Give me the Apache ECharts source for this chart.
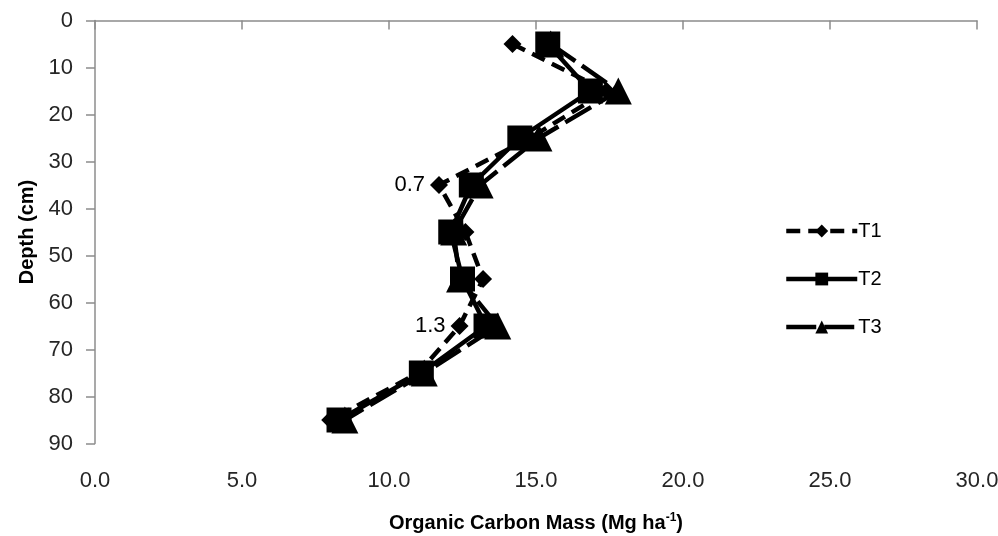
<!DOCTYPE html>
<html>
<head>
<meta charset="utf-8">
<script src="https://cdn.jsdelivr.net/npm/echarts@6/dist/echarts.min.js"></script>
<style>
html,body{margin:0;padding:0;background:#fff;}
#chart{width:998px;height:536px;}
</style>
</head>
<body>
<div id="chart"></div>
<script>
var depths = [5, 15, 25, 35, 45, 55, 65, 75, 85];
var seriesNames = ['T1', 'T2', 'T3'];
var t1 = [14.2, 17.4, 14.8, 11.7, 12.6, 13.2, 12.4, 11.0, 8.0];
var t2 = [15.4, 16.85, 14.45, 12.8, 12.1, 12.5, 13.3, 11.1, 8.3];
var t3 = [15.5, 17.8, 15.1, 13.1, 12.2, 12.4, 13.7, 11.2, 8.5];
var xTicks = [0, 5, 10, 15, 20, 25, 30];
var yTicks = [0, 10, 20, 30, 40, 50, 60, 70, 80, 90];
var pointLabels = {T1: {35: '0.7', 65: '1.3'}};

var FONT = '"Liberation Sans", Arial, sans-serif';

function build(name, vals) {
  return vals.map(function (v, i) {
    var item = {value: [v, depths[i]]};
    var lbl = pointLabels[name] && pointLabels[name][depths[i]];
    if (lbl) {
      item.label = {show: true, position: 'left', distance: 5, formatter: lbl,
        fontSize: 22, color: '#000', fontFamily: FONT};
    }
    return item;
  });
}

var styles = {
  T1: {symbol: 'diamond', size: 18, dash: [14, 8]},
  T2: {symbol: 'rect', size: 25, dash: 'solid'},
  T3: {symbol: 'triangle', size: 27, dash: [30, 8]}
};

var chart = echarts.init(document.getElementById('chart'), null, {renderer: 'canvas'});
var series = seriesNames.map(function (n, k) {
  var vals = [t1, t2, t3][k];
  var s = styles[n];
  return {
    name: n, type: 'line', data: build(n, vals),
    symbol: s.symbol, symbolSize: s.size, showAllSymbol: true,
    itemStyle: {color: '#000'},
    lineStyle: {color: '#000', width: 4.5, type: s.dash},
    z: 2 + k, animation: false
  };
});

chart.setOption({
  animation: false,
  grid: {left: 95, right: 21, top: 20.5, bottom: 92.5, containLabel: false, outerBoundsMode: 'none'},
  legend: {
    orient: 'vertical', left: 779, top: 216, itemWidth: 71, itemHeight: 16, itemGap: 28,
    lineStyle: {width: 4.5},
    textStyle: {fontSize: 20, color: '#000', fontFamily: FONT, padding: [0, 0, 0, -4]},
    data: seriesNames
  },
  xAxis: {
    type: 'value', min: xTicks[0], max: xTicks[xTicks.length - 1], interval: 5,
    splitLine: {show: false},
    axisLine: {lineStyle: {color: '#8c8c8c', width: 1.5}},
    axisTick: {show: true, length: 9, lineStyle: {color: '#8c8c8c', width: 1.5}},
    axisLabel: {fontSize: 22, color: '#262626', fontFamily: FONT, margin: 26,
      formatter: function (v) { return v.toFixed(1); }},
    name: 'Organic Carbon Mass (Mg ha{sup|-1})', nameLocation: 'middle', nameGap: 68,
    nameTextStyle: {fontSize: 20, fontWeight: 'bold', color: '#000', fontFamily: FONT,
      rich: {sup: {fontSize: 12, fontWeight: 'bold', color: '#000', fontFamily: FONT, padding: [0, 0, 12, 0]}}}
  },
  yAxis: {
    type: 'value', inverse: true, min: yTicks[0], max: yTicks[yTicks.length - 1], interval: 10,
    splitLine: {show: false},
    axisLine: {lineStyle: {color: '#8c8c8c', width: 1.5}},
    axisTick: {show: true, length: 9, lineStyle: {color: '#8c8c8c', width: 1.5}},
    axisLabel: {fontSize: 22, color: '#262626', fontFamily: FONT, margin: 22},
    name: 'Depth (cm)', nameLocation: 'middle', nameGap: 57, nameRotate: 90,
    nameTextStyle: {fontSize: 20, fontWeight: 'bold', color: '#000', fontFamily: FONT}
  },
  series: series
});
</script>
</body>
</html>
